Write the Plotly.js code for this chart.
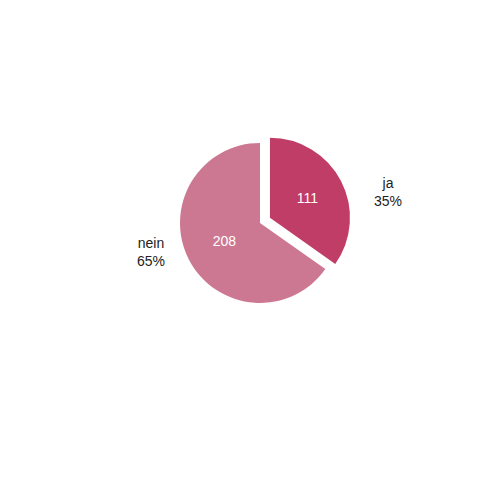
<!DOCTYPE html>
<html>
<head>
<meta charset="utf-8">
<script src="https://cdn.plot.ly/plotly-3.0.1.min.js"></script>
<style>
  html, body { margin: 0; padding: 0; background: #ffffff; }
  #chart { width: 500px; height: 499px; }
</style>
</head>
<body>
<div id="chart"></div>
<script>
// antworten
const labels = ["ja", "nein"];
const values = [111, 208];
const colors = ["#bf3d66", "#cd7893"];
const pulls = [0.14, 0];

const dom = { x: [0.3376, 0.7024], y: [0.3704, 0.7361] };
const schrift = "Liberation Sans, Arial, sans-serif";

const summe = values.reduce(function (a, b) { return a + b; }, 0);
const prozent = values.map(function (v) { return Math.round(v / summe * 100) + "%"; });

// innen: anzahl
const innen = {
  type: "pie",
  labels: labels,
  values: values,
  sort: false,
  direction: "clockwise",
  rotation: 0,
  pull: pulls,
  marker: { colors: colors, line: { width: 0 } },
  textinfo: "value",
  textposition: "inside",
  insidetextfont: { color: "#ffffff", size: 14, family: schrift },
  domain: dom,
  hoverinfo: "skip",
  showlegend: false
};

// aussen: label + prozent als annotationen
const orte = [
  { x: 388, y: 192 },
  { x: 151, y: 252 }
];
const notizen = labels.map(function (lab, i) {
  return {
    text: lab + "<br>" + prozent[i],
    x: orte[i].x / 500,
    y: (499 - orte[i].y) / 499,
    xref: "paper", yref: "paper",
    xanchor: "center", yanchor: "middle",
    showarrow: false,
    font: { color: "#222222", size: 14, family: schrift }
  };
});

Plotly.newPlot("chart", [innen], {
  width: 500,
  height: 499,
  margin: { l: 0, r: 0, t: 0, b: 0 },
  paper_bgcolor: "#ffffff",
  showlegend: false,
  annotations: notizen
}, { displayModeBar: false, staticPlot: true });
</script>
</body>
</html>
